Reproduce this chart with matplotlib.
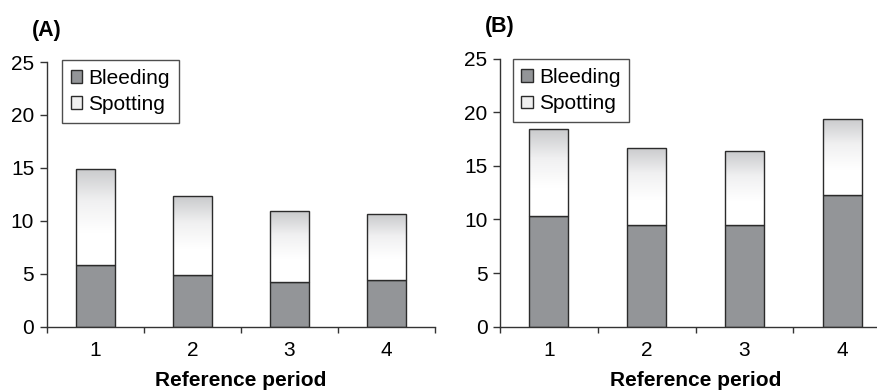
import numpy as np
import matplotlib
matplotlib.use("Agg")
import matplotlib.pyplot as plt
from matplotlib.colors import LinearSegmentedColormap
from matplotlib.patches import Patch

plt.rcParams['font.family'] = ['Liberation Sans', 'DejaVu Sans']

periods = [1, 2, 3, 4]
bleed_a = [5.8, 4.9, 4.2, 4.4]
spot_a = [9.1, 7.4, 6.7, 6.2]
bleed_b = [10.3, 9.5, 9.5, 12.3]
spot_b = [8.1, 7.2, 6.9, 7.1]

BLEED_COL = '#939598'
EDGE = '#2b2b2b'
grad = LinearSegmentedColormap.from_list('g', ['#ffffff', '#ffffff', '#f0f0f1', '#c9cacc'],
                                         N=256)
grad_img = np.linspace(0, 1, 256).reshape(-1, 1)


def draw_panel(ax, bleed, spot, leg_anchor):
    x = np.array(periods)
    ax.bar(x, bleed, width=0.4, color=BLEED_COL, edgecolor=EDGE, linewidth=1.0, zorder=2)
    bars = ax.bar(x, spot, width=0.4, bottom=bleed, color='none', edgecolor=EDGE,
                  linewidth=1.0, zorder=3)
    for b in bars:
        x0, y0 = b.get_x(), b.get_y()
        im = ax.imshow(grad_img, cmap=grad, aspect='auto', origin='lower',
                       extent=[x0, x0 + b.get_width(), y0, y0 + b.get_height()],
                       zorder=2, interpolation='bilinear')
        im.set_clip_path(b)
    ax.set_xlim(0.5, 4.5)
    ax.set_ylim(0, 25)
    ax.set_yticks(range(0, 26, 5))
    ax.set_xticks([0.5, 1.5, 2.5, 3.5, 4.5])
    ax.set_xticklabels([])
    ax.set_xticks(x, [str(p) for p in periods], minor=True)
    ax.tick_params(axis='x', which='major', direction='out', length=4, width=1, color='#333333')
    ax.tick_params(axis='x', which='minor', length=0, pad=10, labelsize=15)
    ax.tick_params(axis='y', direction='out', length=5, width=1, color='#333333', labelsize=15, pad=4)
    for s in ['top', 'right']:
        ax.spines[s].set_visible(False)
    for s in ['left', 'bottom']:
        ax.spines[s].set_color('#333333')
        ax.spines[s].set_linewidth(1.0)
    ax.set_xlabel('Reference period', fontsize=15, fontweight='bold', labelpad=8)
    handles = [Patch(facecolor=BLEED_COL, edgecolor=EDGE, label='Bleeding'),
               Patch(facecolor='#f0f0f0', edgecolor=EDGE, label='Spotting')]
    leg = ax.legend(handles=handles, loc='upper left', bbox_to_anchor=leg_anchor,
                    borderaxespad=0, fancybox=False, fontsize=15, handlelength=0.55,
                    handleheight=0.55, handletextpad=0.3, labelspacing=0.35,
                    borderpad=0.42, frameon=True)
    leg.get_frame().set_edgecolor('#222222')
    leg.get_frame().set_linewidth(1.0)


fig = plt.figure(figsize=(8.78, 3.9), dpi=100)
ax_a = fig.add_axes([0.0532, 0.1623, 0.4422, 0.6787])
ax_b = fig.add_axes([0.5695, 0.1623, 0.4453, 0.6872])

draw_panel(ax_a, bleed_a, spot_a, (0.039, 1.008))
draw_panel(ax_b, bleed_b, spot_b, (0.032, 0.998))

fig.text(0.036, 0.923, '(A)', fontsize=15.5, fontweight='bold', va='center')
fig.text(0.552, 0.932, '(B)', fontsize=15.5, fontweight='bold', va='center')

fig.savefig('out.png', dpi=100)
